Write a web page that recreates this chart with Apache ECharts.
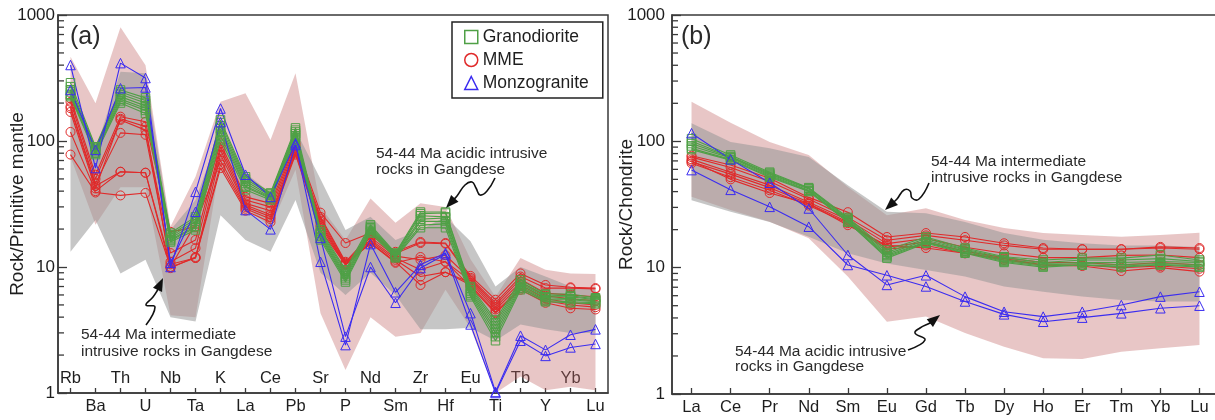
<!DOCTYPE html>
<html><head><meta charset="utf-8">
<script src="https://cdn.jsdelivr.net/npm/echarts@6/dist/echarts.min.js"></script>
<style>html,body{margin:0;padding:0;background:#fff}#c{width:1215px;height:420px}</style>
</head><body><div id="c"></div>
<script>
// ---------- categories ----------
const elementsA = ['Rb','Ba','Th','U','Nb','Ta','K','La','Ce','Pb','Sr','P','Nd','Sm','Zr','Hf','Eu','Ti','Tb','Y','Yb','Lu'];
const elementsB = ['La','Ce','Pr','Nd','Sm','Eu','Gd','Tb','Dy','Ho','Er','Tm','Yb','Lu'];
const yTickLabels = {1:'1',10:'10',100:'100',1000:'1000'};
const minorTickValues = [2,3,4,5,6,7,8,9,20,30,40,50,60,70,80,90,200,300,400,500,600,700,800,900];

// ---------- panel (a): primitive-mantle normalised ----------
const granodioriteA = [
 [290,90,254,220,18.6,25,147,52,38.7,127,19.7,9.5,21.6,12.9,27.3,27.3,7.0,3.8,7.9,6.1,6.1,5.7],
 [270,88,245,210,18,24,140,50,38,122,19,9.2,21,12.7,26.5,26.8,6.8,3.6,7.6,6.0,5.9,5.6],
 [255,86,235,200,17.5,23,132,48,37,118,18.5,8.8,20.5,12.5,25.5,25,6.6,3.4,7.4,5.8,5.8,5.5],
 [245,84,225,190,17,22,125,46,36,114,18,8.5,20,12.3,24,24.5,6.4,3.2,7.2,5.7,5.6,5.4],
 [235,82,215,182,16.5,21,118,44,35.5,110,17.5,8.2,19.5,12.1,23,23,6.2,3.0,7.0,5.5,5.5,5.3],
 [230,80,208,175,16.2,20.5,110,43,35,106,17,7.9,19,12,21.5,22,6.0,2.8,6.8,5.4,5.3,5.2],
 [225,78,200,165,15.8,19.7,102,41,34,102,16.4,7.6,18.6,11.8,20.5,20.5,5.8,2.6,6.6,5.3,5.2,5.1]
];
const mmeA = [
 [218,54,156,142,19,20.8,96,36,32,96,27,15.5,18.6,13.2,15.8,15.5,8.5,5.5,8.9,7.2,6.9,6.8],
 [205,50,147,122,12.9,16.4,90,34,30,92,25,11,18,12.8,15.5,15.3,8.2,5.2,8.4,6.8,6.8,6.7],
 [188,46,116,112,11,14.1,85,32,28,88,24,10.8,17.2,12.2,11.4,12.4,8.0,5.0,8.0,6.2,6.0,5.8],
 [182,44,57,56,10.5,11.8,78,31,26,85,23,10.6,16.5,11.8,9.5,11,7.8,4.8,7.6,5.9,5.6,5.4],
 [170,42,150,130,10,22,70,30,25,82,22,10.5,16,11.4,8.4,9.1,7.5,4.6,7.2,5.6,5.2,5.0],
 [118,40,57,56,9.8,12,65,29,24,80,21,10.4,15.5,11,7.2,9.1,7.2,4.4,6.8,5.4,5.0,4.8],
 [78,39,37,38.7,10,11.8,61,28,22.7,78,19.7,10.4,15.5,10.8,12,11,7.0,4.3,6.6,5.2,4.7,4.6]
];
const monzograniteA = [
 [401,61,415,316,10,39.5,181,54,36,96,11,2.4,15.2,6.3,10.4,12.9,4.3,1.02,2.85,2.2,2.9,3.2],
 [254,85,262,266,10.8,27.4,141,28.3,19.9,93,17,2.8,10,5.2,9.8,12.6,3.5,1.0,2.6,1.97,2.3,2.45]
];
const acidicUpperA = [467,199,800,400,21,52,205,239,102,345,30,16.4,35,22.4,32,30,11.5,5.8,11.8,9.5,8.9,8.8];
const acidicLowerA = [75,21.6,43,43,4.15,4.0,71,30,20.8,59,4.3,1.52,4.0,2.8,3.0,6.6,3.3,1.0,1.35,1.05,1.12,1.05];
const intermUpperA = [225,85,354,345,19.7,34,122,55.6,38.7,122,50,19.7,25,16.4,19.7,25,16,7.0,10,8.4,7.0,6.6];
const intermLowerA = [13.2,23.6,8.9,11.4,4.0,3.7,25.8,16.4,13.2,34,9,6,9,6,3.2,3.2,3.3,2.6,3.5,3.2,3.0,3.0];

// ---------- panel (b): chondrite normalised ----------
const granodioriteB = [
 [105,78,57,43,25,13.8,17.5,14.3,12.2,11.5,11.9,11.9,12.6,11.5],
 [100,76,56,42.5,24.5,13.2,17,14,12,11,11.5,11.5,11.8,11.2],
 [96,75,55,42,24,12.8,16.5,13.8,11.6,10.8,11,11,11.2,11],
 [92,74,54,41,23.5,12.5,16,13.5,11.4,10.5,10.8,10.6,10.8,10.6],
 [88,72,53,40.5,23,12.2,15.8,13.2,11.2,10.3,10.5,10.3,10.6,10.3],
 [86,71,52,40,23,11.9,15.6,13,11,10.1,10.5,10.1,10.5,10.1]
];
const mmeB = [
 [77,65,51,36,27.5,17.5,18.8,17.5,15.6,14.3,14,14,14.6,14.3],
 [75,62,48,35,25,16.5,18,16.5,15,14,14,14,14.3,14],
 [72,57,45,33,24,15.5,17,14.5,13,12,12,12.5,12.6,12],
 [69,55,43,32,23,14.5,16,13.5,12,11,11,10.5,11,10.5],
 [67,52,41,31,22.5,14,15,13,11.8,10.5,10.5,10,10.3,9.8],
 [70,50,39,32,21.7,15,14.3,13,11.5,10.5,10.3,9.4,10,9.3]
];
const monzograniteB = [
 [116,72,47,29.4,12.6,7.3,8.7,5.9,4.48,4.1,4.48,5.06,5.9,6.45],
 [59.2,41.3,30.3,21.1,10.5,8.7,7.1,5.4,4.27,3.73,4.02,4.35,4.77,5.0]
];
const acidicUpperB = [206,140,99,78,43.6,26,29.5,23.8,20.6,18.8,18.1,17.6,18.1,18.9];
const acidicLowerB = [36.5,28.6,23.1,17.1,8.5,3.73,4.1,3.04,2.37,1.92,1.89,2.16,2.3,2.44];
const intermUpperB = [139,99,88,75,45,27.7,27,23,18.8,16.6,15.6,15,15,14.6];
const intermLowerB = [34.2,27.7,23,17.6,13,10.8,9.6,8.5,7.1,6.45,5.9,5.55,5.4,5.4];

// ---------- styling ----------
const FONT = '"Liberation Sans", Arial, Helvetica, sans-serif';
const GREEN = '#4fa046', RED = '#e02a2a', BLUE = '#3b2cf0';
const PINK_FILL = 'rgba(195,105,105,0.38)', GRAY_FILL = 'rgba(150,150,150,0.54)';
const AX = '#3a3a3a', TXT = '#1e1e1e';

function envelope(upper, lower, fill, xi, yi) {
  return {
    type: 'custom', xAxisIndex: xi, yAxisIndex: yi, silent: true, z: 1,
    data: upper.map((u, i) => [i, u, lower[i]]),
    renderItem: function (params, api) {
      if (params.dataIndex !== 0) return;
      const pts = [];
      for (let i = 0; i < upper.length; i++) pts.push(api.coord([i, upper[i]]));
      for (let i = lower.length - 1; i >= 0; i--) pts.push(api.coord([i, lower[i]]));
      return { type: 'polygon', shape: { points: pts }, style: { fill: fill } };
    }
  };
}
function minorTicks(xi, yi) {
  return {
    type: 'custom', xAxisIndex: xi, yAxisIndex: yi, silent: true, z: 5,
    data: minorTickValues.map(v => [0, v]),
    renderItem: function (params, api) {
      const y = api.coord([0, api.value(1)])[1];
      const x0 = params.coordSys.x;
      return { type: 'line', shape: { x1: x0, y1: y, x2: x0 + 6, y2: y }, style: { stroke: AX, lineWidth: 1.3 } };
    }
  };
}
function lines(name, rows, color, symbol, size, xi, yi, z) {
  return rows.map(r => ({
    type: 'line', name: name, data: r, xAxisIndex: xi, yAxisIndex: yi, z: z,
    symbol: symbol, symbolSize: size, showAllSymbol: true,
    lineStyle: { color: color, width: 1.1 },
    itemStyle: { color: 'rgba(255,255,255,0)', borderColor: color, borderWidth: 1 },
    emphasis: { disabled: true }
  }));
}
function arrow(pts, tip, headLen, headW) {
  const last = pts[pts.length - 1];
  const dx = tip[0] - last[0], dy = tip[1] - last[1];
  const L = Math.hypot(dx, dy), ux = dx / L, uy = dy / L;
  const bx = tip[0] - ux * headLen, by = tip[1] - uy * headLen;
  const p1 = [bx - uy * headW / 2, by + ux * headW / 2], p2 = [bx + uy * headW / 2, by - ux * headW / 2];
  return [
    { type: 'polyline', shape: { points: pts.concat([[bx + ux * 2, by + uy * 2]]), smooth: 0.45 }, style: { stroke: '#111', lineWidth: 1.6, fill: null }, z: 50 },
    { type: 'polygon', shape: { points: [tip, p1, p2] }, style: { fill: '#111' }, z: 50 }
  ];
}
function txt(s, x, y, size) {
  return { type: 'text', x: x, y: y, z: 50, style: { text: s, fill: '#2a2a2a', font: size + 'px ' + FONT, verticalAlign: 'middle', textVerticalAlign: 'middle' } };
}

function yAxis(gridIndex, name, gap, margin) {
  return {
    gridIndex: gridIndex, type: 'log', logBase: 10, min: 1, max: 1000,
    name: name, nameLocation: 'middle', nameGap: gap, nameMoveOverlap: false,
    nameTextStyle: { fontSize: 19, color: TXT, fontFamily: FONT },
    axisLine: { show: true, lineStyle: { color: AX, width: 1.5 } },
    axisTick: { show: true, inside: true, length: 9, lineStyle: { color: AX, width: 1.3 } },
    axisLabel: { show: true, fontSize: 17, color: TXT, fontFamily: FONT, margin: margin, formatter: v => yTickLabels[Math.round(v)] || '' },
    splitLine: { show: false }, minorTick: { show: false }
  };
}

const graphics = [
  txt('(a)', 70, 37, 25),
  txt('(b)', 681, 37, 25),
  txt('54-44 Ma acidic intrusive', 376, 153.5, 15.5),
  txt('rocks in Gangdese', 376, 169.5, 15.5),
  txt('54-44 Ma intermediate', 81, 335, 15.5),
  txt('intrusive rocks in Gangdese', 81, 351.5, 15.5),
  txt('54-44 Ma intermediate', 931, 162, 15.5),
  txt('intrusive rocks in Gangdese', 931, 178, 15.5),
  txt('54-44 Ma acidic intrusive', 735, 352, 15.5),
  txt('rocks in Gangdese', 735, 367, 15.5)
].concat(
  arrow([[495, 178], [487, 191], [480, 195], [476, 188], [472, 182], [465, 185], [457, 196]], [446, 208], 13, 10),
  arrow([[146, 325], [155, 307], [146, 305], [153, 297], [157, 291]], [163, 278], 13, 10),
  arrow([[929, 183], [919, 199], [912, 198], [910, 191], [904, 190], [897, 199]], [885, 210], 13, 10),
  arrow([[908, 350], [925, 340], [915, 333], [920, 328], [930, 323]], [940, 315], 13, 10)
);

const series = [
  envelope(acidicUpperA, acidicLowerA, PINK_FILL, 0, 0),
  envelope(intermUpperA, intermLowerA, GRAY_FILL, 0, 0),
  envelope(acidicUpperB, acidicLowerB, PINK_FILL, 2, 1),
  envelope(intermUpperB, intermLowerB, GRAY_FILL, 2, 1),
  minorTicks(0, 0), minorTicks(2, 1)
].concat(
  lines('MME', mmeA, RED, 'circle', 9, 0, 0, 3),
  lines('Granodiorite', granodioriteA, GREEN, 'rect', 8.5, 0, 0, 4),
  lines('Monzogranite', monzograniteA, BLUE, 'triangle', 9.5, 0, 0, 4),
  lines('MME', mmeB, RED, 'circle', 9, 2, 1, 3),
  lines('Granodiorite', granodioriteB, GREEN, 'rect', 8.5, 2, 1, 4),
  lines('Monzogranite', monzograniteB, BLUE, 'triangle', 9.5, 2, 1, 4)
);

const option = {
  animation: false,
  backgroundColor: '#fff',
  textStyle: { fontFamily: FONT },
  grid: [
    { left: 58, top: 15, width: 550, height: 378, show: true, borderColor: AX, borderWidth: 1.5, backgroundColor: 'rgba(0,0,0,0)', containLabel: false, outerBoundsMode: 'none' },
    { left: 672, top: 15, width: 547, height: 379, show: true, borderColor: AX, borderWidth: 1.5, backgroundColor: 'rgba(0,0,0,0)', containLabel: false, outerBoundsMode: 'none' }
  ],
  xAxis: [
    { gridIndex: 0, type: 'category', data: elementsA, position: 'bottom', boundaryGap: true,
      axisLine: { show: true, lineStyle: { color: AX, width: 1.5 } },
      axisTick: { show: true, inside: true, alignWithLabel: true, interval: 0, length: 5, lineStyle: { color: AX, width: 1.3 } },
      axisLabel: { show: true, interval: (i) => i % 2 === 1, margin: 5, fontSize: 16.5, color: TXT, fontFamily: FONT },
      splitLine: { show: false } },
    { gridIndex: 0, type: 'category', data: elementsA, position: 'bottom', boundaryGap: true,
      axisLine: { show: false }, axisTick: { show: false },
      axisLabel: { show: true, inside: true, interval: (i) => i % 2 === 0, margin: 6, fontSize: 16.5, color: TXT, fontFamily: FONT },
      splitLine: { show: false } },
    { gridIndex: 1, type: 'category', data: elementsB, position: 'bottom', boundaryGap: true,
      axisLine: { show: true, lineStyle: { color: AX, width: 1.5 } },
      axisTick: { show: true, inside: true, alignWithLabel: true, interval: 0, length: 6, lineStyle: { color: AX, width: 1.3 } },
      axisLabel: { show: true, interval: 0, margin: 5, fontSize: 16.5, color: TXT, fontFamily: FONT },
      splitLine: { show: false } }
  ],
  yAxis: [
    yAxis(0, 'Rock/Primitive mantle', 31, 3),
    yAxis(1, 'Rock/Chondrite', 36, 7)
  ],
  legend: {
    show: true, orient: 'vertical', left: 452, top: 22,
    padding: [5, 14, 5, 12], itemGap: 3, itemWidth: 13, itemHeight: 13,
    borderColor: '#222', borderWidth: 1.5, backgroundColor: '#fff', borderRadius: 0,
    textStyle: { fontSize: 17.5, color: TXT, fontFamily: FONT, lineHeight: 20 },
    selectedMode: false,
    data: [
      { name: 'Granodiorite', icon: 'rect', itemStyle: { color: 'rgba(255,255,255,0)', borderColor: GREEN, borderWidth: 1.5 } },
      { name: 'MME', icon: 'circle', itemStyle: { color: 'rgba(255,255,255,0)', borderColor: RED, borderWidth: 1.5 } },
      { name: 'Monzogranite', icon: 'triangle', itemStyle: { color: 'rgba(255,255,255,0)', borderColor: BLUE, borderWidth: 1.5 } }
    ]
  },
  graphic: graphics,
  series: series
};

const chart = echarts.init(document.getElementById('c'), null, { renderer: 'canvas' });
chart.setOption(option);
</script>
</body></html>
